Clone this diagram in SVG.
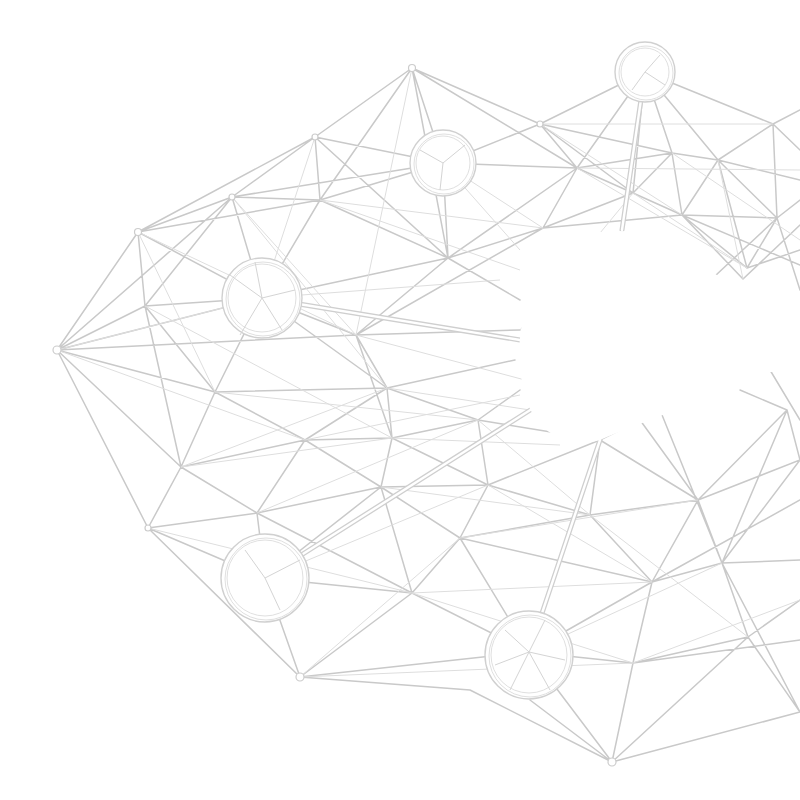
<svg xmlns="http://www.w3.org/2000/svg" width="800" height="800" viewBox="0 0 800 800">
<style>
.e{stroke:#c9c9c9;stroke-width:1.5;fill:none;stroke-linecap:round}
.t{stroke:#dedede;stroke-width:1;fill:none}
.dbo{stroke:#cfcfcf;stroke-width:5;fill:none;stroke-linecap:round}
.dbi{stroke:#ffffff;stroke-width:2.4;fill:none;stroke-linecap:round}
.ring{fill:#ffffff;stroke:#d0d0d0;stroke-width:1.4}
.ring2{fill:none;stroke:#e0e0e0;stroke-width:1}
.sp{stroke:#d4d4d4;stroke-width:1;fill:none}
.n{fill:#ffffff;stroke:#cccccc;stroke-width:1.2}
</style>
<rect width="800" height="800" fill="#ffffff"/>
<g id="connectors">
<path class="e" d="M57,350L138,232M57,350L232,197M57,350L262,298M57,350L356,335M57,350L215,392M57,350L181,467M57,350L148,528M57,350L145,306
M138,232L232,197M138,232L145,306M138,232L262,298M138,232L320,200M138,232L315,137
M232,197L315,137M232,197L320,200M232,197L262,298M232,197L145,306M232,197L443,163
M315,137L412,68M315,137L320,200M315,137L443,163M315,137L448,258
M412,68L540,124M412,68L320,200M412,68L443,163M412,68L448,258M412,68L577,168
M540,124L645,72M540,124L577,168M540,124L443,163M540,124L672,153M540,124L633,193
M645,72L773,124M645,72L672,153M645,72L718,160M645,72L577,168M645,72L633,193
M773,124L800,150M773,124L718,160M773,124L777,218M773,124L800,110
M577,168L672,153M577,168L633,193M577,168L543,228M577,168L448,258M577,168L443,163
M672,153L718,160M672,153L633,193M672,153L682,215
M718,160L682,215M718,160L777,218M718,160L747,268M718,160L800,180
M633,193L543,228M633,193L682,215
M543,228L448,258M543,228L682,215M543,228L356,335
M682,215L747,268M682,215L777,218M682,215L743,279M682,215L800,265
M747,268L777,218M747,268L800,250M777,218L800,200M777,218L800,290M743,279L800,225M700,290L777,218
M448,258L443,163M448,258L320,200M448,258L262,298M448,258L356,335M448,258L520,300
M320,200L443,163M320,200L262,298M262,298L145,306M262,298L356,335M262,298L387,388M262,298L215,392
M145,306L215,392M145,306L181,467
M356,335L387,388M356,335L520,330M356,335L392,438
M387,388L215,392M387,388L305,440M387,388L392,438M387,388L478,420M387,388L515,360
M215,392L305,440M215,392L181,467
M305,440L181,467M305,440L257,513M305,440L381,487M305,440L392,438
M181,467L148,528M181,467L257,513
M148,528L257,513M148,528L265,578M148,528L300,677
M257,513L265,578M257,513L381,487M257,513L412,593
M265,578L300,677M265,578L412,593M265,578L381,487
M300,677L412,593M300,677L529,652M300,677L470,690
M392,438L478,420M392,438L381,487M392,438L488,485
M478,420L488,485M478,420L520,390M478,420L600,440
M381,487L488,485M381,487L460,538M381,487L412,593
M488,485L460,538M488,485L590,515M488,485L600,440
M460,538L412,593M460,538L529,652M460,538L590,515M460,538L652,582
M412,593L529,652
M529,652L612,762M529,652L633,663M529,652L652,582M470,690L612,762
M612,762L633,663M612,762L748,637M612,762L800,712M612,762L530,700
M633,663L652,582M633,663L748,637M633,663L800,640
M652,582L590,515M652,582L698,500M652,582L722,563M652,582L800,500
M698,500L590,515M698,500L722,563M698,500L787,410M698,500L800,460M698,500L600,440
M722,563L748,637M722,563L800,460M722,563L800,712M722,563L787,410
M748,637L800,712M748,637L800,600
M787,410L800,460M787,410L740,390M800,560L722,563M770,370L800,420
M590,515L600,440M600,440L640,420M640,420L698,500M660,410L722,563"/>
<path class="t" d="M57,350L305,440M138,232L356,335M232,197L387,388M315,137L262,298M412,68L356,335M443,163L543,228M320,200L543,228M145,306L392,438M181,467L387,388M148,528L412,593M257,513L478,420M265,578L488,485M300,677L460,538M412,593L652,582M529,652L722,563M633,663L800,600M460,538L698,500M381,487L590,515M577,168L747,268M540,124L682,215M672,153L800,240M633,193L520,330
M356,335L525,380M387,388L530,410M305,440L520,395M392,438L560,445M262,298L500,280M443,163L520,250M320,200L520,270M215,392L478,420M181,467L392,438M57,350L262,298M138,232L215,392M232,197L356,335M488,485L652,582M590,515L748,637M478,420L590,515M412,593L633,663M300,677L633,663M540,124L773,124M577,168L800,170M633,193L747,268M718,160L743,279"/>
<path class="dbo" d="M262,298L520,340M265,578L535,407M529,652L600,440M645,72L622,230"/>
<path class="dbi" d="M262,298L520,340M265,578L535,407M529,652L600,440M645,72L622,230"/>
</g>
<path id="hole" fill="#ffffff" d="M560,240C600,228 650,225 690,250C705,275 740,292 800,292L800,372C760,372 725,370 708,385C690,410 640,422 600,440C562,452 532,425 525,395C516,362 518,332 528,302C535,272 542,250 560,240Z"/>
<g id="hub-1"><circle class="ring" cx="262" cy="298" r="40"/><circle class="ring2" cx="262" cy="298" r="34"/><circle class="ring2" cx="263" cy="299" r="37"/><path class="sp" d="M262,298L240,335M262,298L282,330M262,298L230,275M262,298L295,290M262,298L255,262"/></g>
<g id="hub-2"><circle class="ring" cx="443" cy="163" r="33"/><circle class="ring2" cx="443" cy="163" r="27"/><circle class="ring2" cx="444" cy="164" r="30"/><path class="sp" d="M443,163L465,145M443,163L440,190M443,163L420,150"/></g>
<g id="hub-3"><circle class="ring" cx="645" cy="72" r="30"/><circle class="ring2" cx="645" cy="72" r="24"/><circle class="ring2" cx="646" cy="73" r="27"/><path class="sp" d="M645,72L660,55M645,72L632,90M645,72L665,85"/></g>
<g id="hub-4"><circle class="ring" cx="265" cy="578" r="44"/><circle class="ring2" cx="265" cy="578" r="38"/><circle class="ring2" cx="266" cy="579" r="41"/><path class="sp" d="M265,578L245,550M265,578L280,610M265,578L300,560"/></g>
<g id="hub-5"><circle class="ring" cx="529" cy="655" r="44"/><circle class="ring2" cx="529" cy="655" r="38"/><circle class="ring2" cx="530" cy="656" r="41"/><path class="sp" d="M529,652L505,630M529,652L545,620M529,652L565,660M529,652L510,690M529,652L550,690M529,652L495,665"/></g>
<g id="nodes">
<circle class="n" cx="57" cy="350" r="4"/><circle class="n" cx="138" cy="232" r="3.5"/><circle class="n" cx="232" cy="197" r="3"/><circle class="n" cx="315" cy="137" r="3"/><circle class="n" cx="412" cy="68" r="3.5"/><circle class="n" cx="540" cy="124" r="3"/><circle class="n" cx="300" cy="677" r="4"/><circle class="n" cx="612" cy="762" r="4"/><circle class="n" cx="148" cy="528" r="3"/>
</g>
</svg>
